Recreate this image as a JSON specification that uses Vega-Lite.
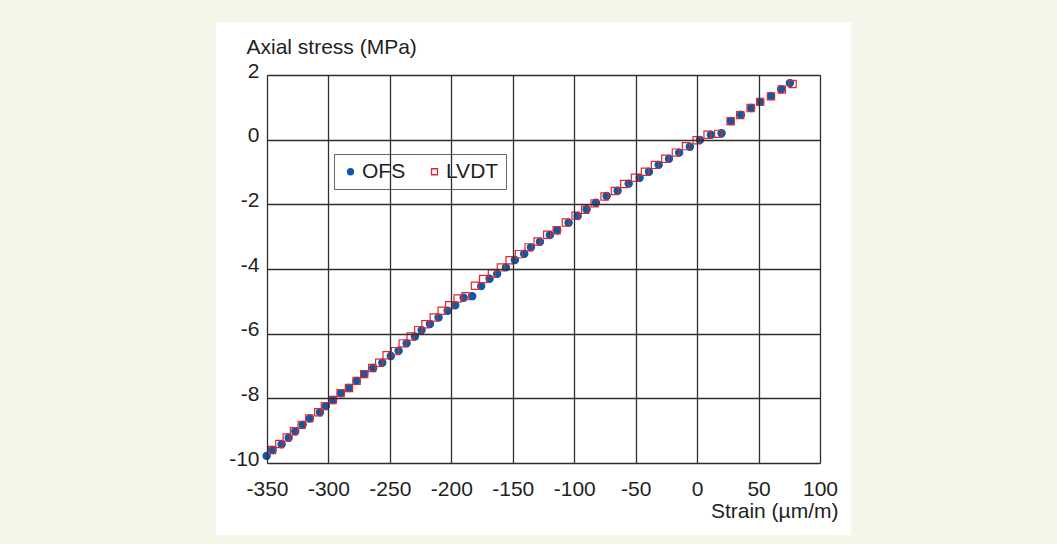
{
  "$schema": "https://vega.github.io/schema/vega-lite/v6.json",
  "autosize": {"type": "none"},
  "width": 553,
  "height": 388,
  "padding": {"left": 267, "top": 75, "right": 237, "bottom": 81},
  "background": "#f3f6e8",
  "config": {
    "font": "Liberation Sans",
    "view": {"stroke": null},
    "axis": {
      "domain": false,
      "ticks": false,
      "tickSize": 0,
      "grid": true,
      "gridColor": "#2e2e2e",
      "gridWidth": 1.3,
      "gridOpacity": 1,
      "labelFont": "Liberation Sans",
      "labelFontSize": 21,
      "labelColor": "#231f20",
      "labelOverlap": false,
      "labelFlush": false,
      "titleFont": "Liberation Sans",
      "titleFontSize": 21,
      "titleFontWeight": "normal",
      "titleColor": "#231f20",
      "labelExpr": "'' + datum.value"
    },
    "legend": {
      "labelFont": "Liberation Sans",
      "labelFontSize": 21,
      "labelColor": "#231f20"
    }
  },
  "datasets": {
    "panel": [{"x1": -391.5, "x2": 125.2, "y1": 3.64, "y2": -12.23}],
    "pts": [
      {"series": "OFS", "strain": -350.3, "stress": -9.78},
      {"series": "OFS", "strain": -345.4, "stress": -9.60},
      {"series": "OFS", "strain": -338.1, "stress": -9.42},
      {"series": "OFS", "strain": -332.4, "stress": -9.22},
      {"series": "OFS", "strain": -327.0, "stress": -9.02},
      {"series": "OFS", "strain": -321.0, "stress": -8.82},
      {"series": "OFS", "strain": -315.1, "stress": -8.62},
      {"series": "OFS", "strain": -306.9, "stress": -8.43},
      {"series": "OFS", "strain": -302.1, "stress": -8.24},
      {"series": "OFS", "strain": -296.1, "stress": -8.05},
      {"series": "OFS", "strain": -289.9, "stress": -7.84},
      {"series": "OFS", "strain": -283.3, "stress": -7.68},
      {"series": "OFS", "strain": -277.1, "stress": -7.46},
      {"series": "OFS", "strain": -270.9, "stress": -7.25},
      {"series": "OFS", "strain": -263.6, "stress": -7.06},
      {"series": "OFS", "strain": -256.2, "stress": -6.90},
      {"series": "OFS", "strain": -249.2, "stress": -6.69},
      {"series": "OFS", "strain": -242.9, "stress": -6.53},
      {"series": "OFS", "strain": -236.4, "stress": -6.30},
      {"series": "OFS", "strain": -229.6, "stress": -6.09},
      {"series": "OFS", "strain": -224.2, "stress": -5.89},
      {"series": "OFS", "strain": -217.4, "stress": -5.70},
      {"series": "OFS", "strain": -210.4, "stress": -5.50},
      {"series": "OFS", "strain": -203.0, "stress": -5.29},
      {"series": "OFS", "strain": -196.8, "stress": -5.12},
      {"series": "OFS", "strain": -190.0, "stress": -4.89},
      {"series": "OFS", "strain": -183.0, "stress": -4.84},
      {"series": "OFS", "strain": -175.7, "stress": -4.53},
      {"series": "OFS", "strain": -168.9, "stress": -4.30},
      {"series": "OFS", "strain": -162.7, "stress": -4.15},
      {"series": "OFS", "strain": -155.6, "stress": -3.95},
      {"series": "OFS", "strain": -148.3, "stress": -3.72},
      {"series": "OFS", "strain": -140.7, "stress": -3.53},
      {"series": "OFS", "strain": -135.2, "stress": -3.33},
      {"series": "OFS", "strain": -127.9, "stress": -3.16},
      {"series": "OFS", "strain": -119.8, "stress": -2.95},
      {"series": "OFS", "strain": -113.8, "stress": -2.80},
      {"series": "OFS", "strain": -104.6, "stress": -2.57},
      {"series": "OFS", "strain": -97.2, "stress": -2.36},
      {"series": "OFS", "strain": -89.9, "stress": -2.15},
      {"series": "OFS", "strain": -82.3, "stress": -1.95},
      {"series": "OFS", "strain": -73.6, "stress": -1.74},
      {"series": "OFS", "strain": -64.7, "stress": -1.58},
      {"series": "OFS", "strain": -55.7, "stress": -1.36},
      {"series": "OFS", "strain": -46.8, "stress": -1.18},
      {"series": "OFS", "strain": -39.2, "stress": -0.99},
      {"series": "OFS", "strain": -31.3, "stress": -0.78},
      {"series": "OFS", "strain": -22.9, "stress": -0.59},
      {"series": "OFS", "strain": -14.6, "stress": -0.40},
      {"series": "OFS", "strain": -5.9, "stress": -0.22},
      {"series": "OFS", "strain": 2.3, "stress": -0.01},
      {"series": "OFS", "strain": 11.2, "stress": 0.15},
      {"series": "OFS", "strain": 19.9, "stress": 0.20},
      {"series": "OFS", "strain": 27.3, "stress": 0.58},
      {"series": "OFS", "strain": 35.6, "stress": 0.77},
      {"series": "OFS", "strain": 44.0, "stress": 0.98},
      {"series": "OFS", "strain": 51.3, "stress": 1.17},
      {"series": "OFS", "strain": 60.1, "stress": 1.35},
      {"series": "OFS", "strain": 68.4, "stress": 1.56},
      {"series": "OFS", "strain": 75.5, "stress": 1.75},
      {"series": "LVDT", "strain": -345.9, "stress": -9.60},
      {"series": "LVDT", "strain": -340.0, "stress": -9.41},
      {"series": "LVDT", "strain": -334.0, "stress": -9.21},
      {"series": "LVDT", "strain": -328.1, "stress": -9.02},
      {"series": "LVDT", "strain": -321.8, "stress": -8.82},
      {"series": "LVDT", "strain": -315.6, "stress": -8.62},
      {"series": "LVDT", "strain": -308.3, "stress": -8.43},
      {"series": "LVDT", "strain": -302.9, "stress": -8.24},
      {"series": "LVDT", "strain": -296.6, "stress": -8.05},
      {"series": "LVDT", "strain": -290.1, "stress": -7.84},
      {"series": "LVDT", "strain": -283.3, "stress": -7.68},
      {"series": "LVDT", "strain": -277.1, "stress": -7.46},
      {"series": "LVDT", "strain": -270.9, "stress": -7.25},
      {"series": "LVDT", "strain": -264.4, "stress": -7.06},
      {"series": "LVDT", "strain": -258.7, "stress": -6.90},
      {"series": "LVDT", "strain": -252.7, "stress": -6.67},
      {"series": "LVDT", "strain": -245.9, "stress": -6.54},
      {"series": "LVDT", "strain": -239.6, "stress": -6.30},
      {"series": "LVDT", "strain": -233.1, "stress": -6.09},
      {"series": "LVDT", "strain": -226.9, "stress": -5.89},
      {"series": "LVDT", "strain": -221.1, "stress": -5.71},
      {"series": "LVDT", "strain": -214.3, "stress": -5.50},
      {"series": "LVDT", "strain": -207.9, "stress": -5.29},
      {"series": "LVDT", "strain": -201.7, "stress": -5.12},
      {"series": "LVDT", "strain": -194.9, "stress": -4.91},
      {"series": "LVDT", "strain": -188.4, "stress": -4.84},
      {"series": "LVDT", "strain": -180.8, "stress": -4.52},
      {"series": "LVDT", "strain": -174.1, "stress": -4.31},
      {"series": "LVDT", "strain": -167.0, "stress": -4.14},
      {"series": "LVDT", "strain": -159.7, "stress": -3.95},
      {"series": "LVDT", "strain": -152.6, "stress": -3.73},
      {"series": "LVDT", "strain": -145.0, "stress": -3.54},
      {"series": "LVDT", "strain": -137.1, "stress": -3.33},
      {"series": "LVDT", "strain": -129.8, "stress": -3.15},
      {"series": "LVDT", "strain": -122.0, "stress": -2.94},
      {"series": "LVDT", "strain": -114.3, "stress": -2.80},
      {"series": "LVDT", "strain": -106.8, "stress": -2.56},
      {"series": "LVDT", "strain": -98.9, "stress": -2.35},
      {"series": "LVDT", "strain": -91.1, "stress": -2.17},
      {"series": "LVDT", "strain": -83.4, "stress": -1.97},
      {"series": "LVDT", "strain": -75.3, "stress": -1.76},
      {"series": "LVDT", "strain": -66.9, "stress": -1.59},
      {"series": "LVDT", "strain": -59.3, "stress": -1.37},
      {"series": "LVDT", "strain": -50.6, "stress": -1.18},
      {"series": "LVDT", "strain": -42.5, "stress": -0.99},
      {"series": "LVDT", "strain": -34.3, "stress": -0.78},
      {"series": "LVDT", "strain": -25.9, "stress": -0.59},
      {"series": "LVDT", "strain": -17.3, "stress": -0.40},
      {"series": "LVDT", "strain": -9.1, "stress": -0.20},
      {"series": "LVDT", "strain": -0.4, "stress": -0.02},
      {"series": "LVDT", "strain": 8.5, "stress": 0.15},
      {"series": "LVDT", "strain": 17.2, "stress": 0.18},
      {"series": "LVDT", "strain": 27.3, "stress": 0.57},
      {"series": "LVDT", "strain": 35.1, "stress": 0.76},
      {"series": "LVDT", "strain": 43.5, "stress": 0.98},
      {"series": "LVDT", "strain": 51.3, "stress": 1.17},
      {"series": "LVDT", "strain": 60.1, "stress": 1.34},
      {"series": "LVDT", "strain": 69.0, "stress": 1.55},
      {"series": "LVDT", "strain": 77.7, "stress": 1.72}
    ]
  },
  "layer": [
    {
      "data": {"name": "panel"},
      "mark": {"type": "rect", "fill": "#ffffff", "stroke": null, "clip": false},
      "encoding": {
        "x": {"field": "x1", "type": "quantitative", "scale": {"domain": [-350, 100], "nice": false, "zero": false},
              "axis": {"zindex": 1, "values": [-350, -300, -250, -200, -150, -100, -50, 0, 50, 100], "title": "Strain (µm/m)", "labelPadding": 15, "titleAlign": "right", "titleBaseline": "alphabetic", "titleX": 571, "titleY": 54}},
        "x2": {"field": "x2"},
        "y": {"field": "y1", "type": "quantitative", "scale": {"domain": [-10, 2], "nice": false, "zero": false},
              "axis": {"zindex": 1, "values": [-10, -8, -6, -4, -2, 0, 2], "title": "Axial stress (MPa)", "labelPadding": 8, "labelOffset": -4, "titleAngle": 0, "titleAlign": "left", "titleBaseline": "alphabetic", "titleX": -21, "titleY": -22}},
        "y2": {"field": "y2"}
      }
    },
    {
      "data": {"name": "pts"},
      "mark": {"type": "point", "size": 52, "strokeWidth": 1.2, "opacity": 1},
      "encoding": {
        "x": {"field": "strain", "type": "quantitative", "scale": {"domain": [-350, 100], "nice": false, "zero": false},
              "axis": {"zindex": 1, "values": [-350, -300, -250, -200, -150, -100, -50, 0, 50, 100], "title": "Strain (µm/m)", "labelPadding": 15, "titleAlign": "right", "titleBaseline": "alphabetic", "titleX": 571, "titleY": 54}},
        "y": {"field": "stress", "type": "quantitative", "scale": {"domain": [-10, 2], "nice": false, "zero": false},
              "axis": {"zindex": 1, "values": [-10, -8, -6, -4, -2, 0, 2], "title": "Axial stress (MPa)", "labelPadding": 8, "labelOffset": -4, "titleAngle": 0, "titleAlign": "left", "titleBaseline": "alphabetic", "titleX": -21, "titleY": -22}},
        "shape": {"field": "series", "type": "nominal", "scale": {"domain": ["OFS", "LVDT"], "range": ["circle", "square"]},
                  "legend": {"title": null, "orient": "none", "legendX": 67, "legendY": 79, "direction": "horizontal", "strokeColor": "#666666", "fillColor": "#ffffff", "padding": 7, "symbolOffset": -1, "symbolSize": 36, "symbolStrokeWidth": 1.3, "labelOffset": 1, "columnPadding": 19, "labelFontSize": 21}},
        "fill": {"field": "series", "type": "nominal", "scale": {"domain": ["OFS", "LVDT"], "range": ["#0b5aa8", "transparent"]},
                 "legend": {"title": null, "orient": "none", "legendX": 67, "legendY": 79, "direction": "horizontal", "strokeColor": "#666666", "fillColor": "#ffffff", "padding": 7, "symbolOffset": -1, "symbolSize": 36, "symbolStrokeWidth": 1.3, "labelOffset": 1, "columnPadding": 19, "labelFontSize": 21}},
        "stroke": {"field": "series", "type": "nominal", "scale": {"domain": ["OFS", "LVDT"], "range": ["#0b5aa8", "#e3262d"]},
                   "legend": {"title": null, "orient": "none", "legendX": 67, "legendY": 79, "direction": "horizontal", "strokeColor": "#666666", "fillColor": "#ffffff", "padding": 7, "symbolOffset": -1, "symbolSize": 36, "symbolStrokeWidth": 1.3, "labelOffset": 1, "columnPadding": 19, "labelFontSize": 21}}
      }
    }
  ]
}
